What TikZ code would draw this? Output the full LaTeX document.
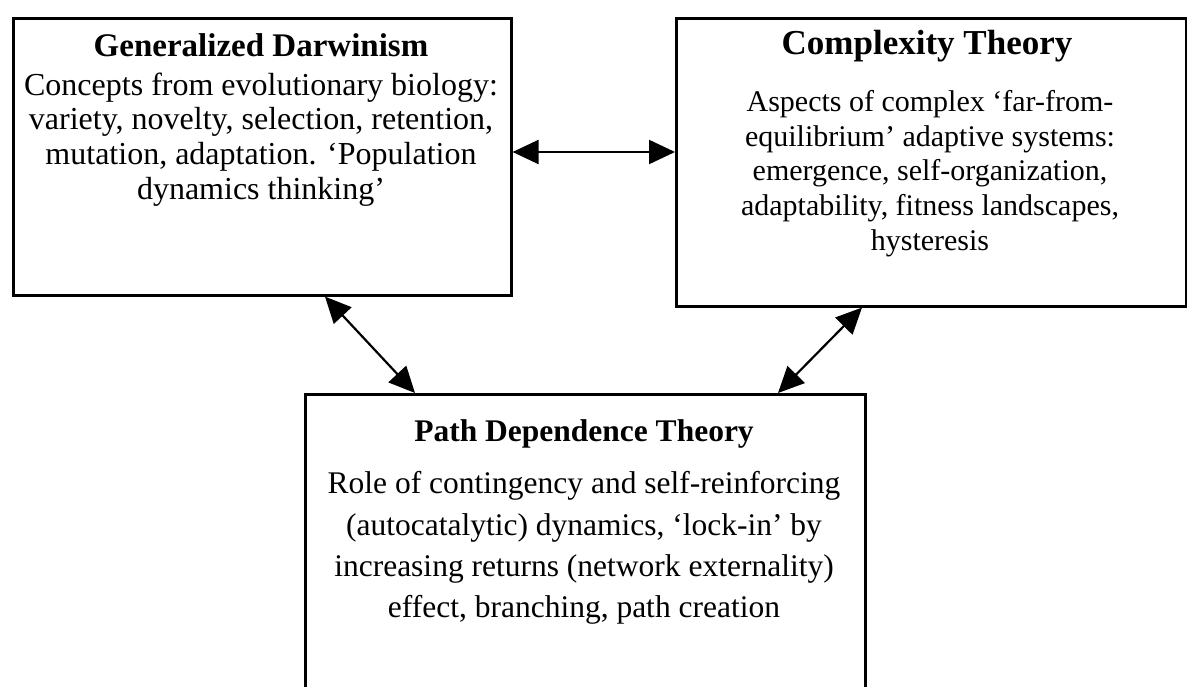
\documentclass[tikz,border=0pt]{standalone}
\usepackage{fontspec}
\setmainfont{Liberation Serif}
\usetikzlibrary{arrows.meta}
\begin{document}
\begin{tikzpicture}[x=1pt,y=-1pt,
  box/.style={draw=black, line width=2.6pt, anchor=north west, inner sep=0pt},
  ttl/.style={inner sep=0pt},
  body/.style={align=center, inner sep=0pt, anchor=north},
  arr/.style={line width=2.2pt, {Triangle[length=26pt,width=24pt]}-{Triangle[length=26pt,width=24pt]}}]
\useasboundingbox (0,0) rectangle (1187,687);
% boxes
\node[box, minimum width=498pt, minimum height=277pt] (gd) at (12,17) {};
\node[box, minimum width=510pt, minimum height=288pt] (ct) at (675,17) {};
\node[box, minimum width=560pt, minimum height=400pt] (pd) at (304,393) {};
% texts
\node[ttl, font=\bfseries\fontsize{33}{38}\selectfont] (gdt) at (261,45) {Generalized Darwinism};
\node[body, font=\fontsize{32}{34.7}\selectfont] (gdb) at (261,72.5) {Concepts from evolutionary biology:\\variety, novelty, selection, retention,\\mutation, adaptation. `Population\\dynamics thinking'};
\node[ttl, font=\bfseries\fontsize{35}{40}\selectfont] (ctt) at (927,46) {Complexity Theory};
\node[body, font=\fontsize{30}{34.8}\selectfont] (ctb) at (930,90) {Aspects of complex `far-from-\\equilibrium' adaptive systems:\\emergence, self-organization,\\adaptability, fitness landscapes,\\hysteresis};
\node[ttl, font=\bfseries\fontsize{31.5}{37}\selectfont] (pdt) at (584,434) {Path Dependence Theory};
\node[body, font=\fontsize{31.5}{41.3}\selectfont] (pdb) at (584,471.5) {Role of contingency and self-reinforcing\\(autocatalytic) dynamics, `lock-in' by\\increasing returns (network externality)\\effect, branching, path creation};
% arrow end points
\path (0,152) coordinate (h);
\path (325,0) coordinate (a1);
\path (415,0) coordinate (a2);
\path (862,0) coordinate (b1);
\path (778,0) coordinate (b2);
\draw[arr] (gd.east |- h) -- (ct.west |- h);
\draw[arr] (gd.south -| a1) -- (pd.north -| a2);
\draw[arr] (ct.south -| b1) -- (pd.north -| b2);
\end{tikzpicture}
\end{document}
